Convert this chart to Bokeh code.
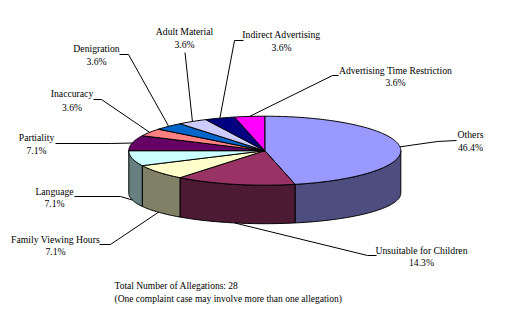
import math
from bokeh.plotting import figure
from bokeh.models import Range1d, ColumnDataSource
from bokeh.core.properties import value
from bokeh.embed import file_html
from bokeh.resources import INLINE

# ---- data ----
categories = ["Others", "Unsuitable for Children", "Family Viewing Hours", "Language",
              "Partiality", "Inaccuracy", "Denigration", "Adult Material",
              "Indirect Advertising", "Advertising Time Restriction"]
counts = [13, 4, 2, 2, 2, 1, 1, 1, 1, 1]
top_colors = ["#9999FF", "#993366", "#FFFFCC", "#CCFFFF", "#660066",
              "#FF8080", "#0066CC", "#CCCCFF", "#000080", "#FF00FF"]
side_colors = ["#4D4D80", "#4D1A33", "#808066", "#668080", "#330033",
               "#804040", "#003366", "#666680", "#000040", "#800080"]
footer_lines = ["Total Number of Allegations: 28",
                "(One complaint case may involve more than one allegation)"]

# ---- layout (positions only) ----
CX, CY, RX, RY = 264.3, 150.2, 136.0, 34.5
DEPTH, RY_B = 42.5, 30.5
label_text_pos = [(470, 134, 147), (421, 250, 262), (55, 238.5, 251), (54, 191, 203),
                  (36, 137, 150), (71.5, 93, 106.5), (96, 48, 61), (184, 31, 44),
                  (281, 34, 47), (395, 70, 82)]
label_elbow = [(437, 141), (367, 255), (110, 244), (120, 196), (110, 143),
               (101, 99), (128, 54), (184.5, 52), (234, 40), (332, 75)]
label_end = [(456, 140), (376, 255), (99, 244), (74, 196), (55, 143),
             (93, 99), (119, 54), (184.5, 52), (243, 40), (338, 75)]

FONT = "Liberation Serif"
FS = "9.7px"
FS_FOOT = "9.5px"

total = sum(counts)


def top_pt(t):
    r = math.radians(t)
    return CX + RX * math.sin(r), CY - RY * math.cos(r)


def bot_pt(t):
    r = math.radians(t)
    return CX + RX * math.sin(r), CY + DEPTH - RY_B * math.cos(r)


def arc(fn, a, b, n=None):
    if n is None:
        n = max(2, int(abs(b - a) / 1.0) + 1)
    return [fn(a + (b - a) * i / (n - 1)) for i in range(n)]


p = figure(width=505, height=330, x_range=Range1d(0, 505), y_range=Range1d(330, 0),
           output_backend="svg", toolbar_location=None,
           x_axis_location=None, y_axis_location=None, min_border=0)
p.grid.visible = False
p.outline_line_color = None
p.background_fill_color = "white"
p.border_fill_color = "white"

# angles
starts, ends = [], []
acc = 0.0
for c in counts:
    starts.append(acc * 360.0 / total)
    acc += c
    ends.append(acc * 360.0 / total)

# side faces (front half: 90..270)
sx, sy, sc = [], [], []
for a, b, col in zip(starts, ends, side_colors):
    lo, hi = max(a, 90.0), min(b, 270.0)
    if hi > lo:
        pts = arc(top_pt, lo, hi) + arc(bot_pt, hi, lo)
        sx.append([q[0] for q in pts])
        sy.append([q[1] for q in pts])
        sc.append(col)
p.patches(sx, sy, fill_color=sc, line_color="black", line_width=1)

# top faces
tx, ty = [], []
for a, b in zip(starts, ends):
    pts = [(CX, CY)] + arc(top_pt, a, b)
    tx.append([q[0] for q in pts])
    ty.append([q[1] for q in pts])
p.patches(tx, ty, fill_color=top_colors, line_color="black", line_width=1)

# leader lines
lx, ly = [], []
for a, b, el, en in zip(starts, ends, label_elbow, label_end):
    m = (a + b) / 2.0
    anc = bot_pt(m) if 90.0 < m < 270.0 else top_pt(m)
    lx.append([anc[0], el[0], en[0]])
    ly.append([anc[1], el[1], en[1]])
p.multi_line(lx, ly, line_color="black", line_width=1)

# labels
names = categories
pcts = ["%.1f%%" % (100.0 * c / total) for c in counts]
src = ColumnDataSource(dict(
    x=[t[0] for t in label_text_pos], y1=[t[1] for t in label_text_pos],
    y2=[t[2] for t in label_text_pos], name=names, pct=pcts))
p.text(x="x", y="y1", text="name", source=src, text_font=value(FONT),
       text_font_size=FS, text_align="center", text_baseline="middle", text_color="black")
p.text(x="x", y="y2", text="pct", source=src, text_font=value(FONT),
       text_font_size=FS, text_align="center", text_baseline="middle", text_color="black")

# footer
p.text(x=[114, 114], y=[285, 298], text=footer_lines, text_font=value(FONT),
       text_font_size=FS_FOOT, text_align="left", text_baseline="middle", text_color="black")

open("out.html", "w").write(file_html(p, INLINE))
